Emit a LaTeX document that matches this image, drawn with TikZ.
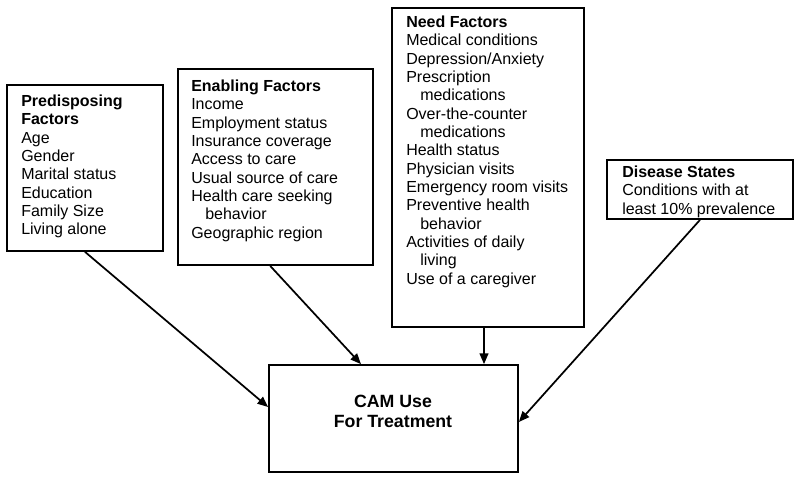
\documentclass[tikz,border=0pt]{standalone}
\usepackage{fontspec}
\setmainfont{Liberation Sans}
\usetikzlibrary{arrows.meta,fit}
\begin{document}
\begin{tikzpicture}[x=0.75pt,y=-0.75pt,
  box/.style={draw, line width=1.3pt, inner sep=0pt},
  list/.style={anchor=north west, inner sep=0pt, align=left, font=\fontsize{12pt}{13.75pt}\selectfont},
  camtext/.style={anchor=center, inner sep=0pt, align=center, font=\fontsize{13.3pt}{15pt}\selectfont\bfseries},
  arr/.style={line width=1.3pt, -{Triangle[length=8pt,width=6.5pt]}}]
\useasboundingbox (0,0) rectangle (800,480);
\newcommand{\ind}{\hspace*{10.5pt}}
% boxes
\node[box, fit={(7,85) (163,251)}] (pre) {};
\node[box, fit={(178,69) (373,265)}] (ena) {};
\node[box, fit={(392,8) (584,327)}] (need) {};
\node[box, fit={(607,160) (793,219)}] (dis) {};
\node[box, fit={(269,365) (518,472)}] (cam) {};
% texts
\node[list] (preT) at (21,94.5) {\textbf{Predisposing}\\\textbf{Factors}\\Age\\Gender\\Marital status\\Education\\Family Size\\Living alone};
\node[list] (enaT) at (191,79.5) {\textbf{Enabling Factors}\\Income\\Employment status\\Insurance coverage\\Access to care\\Usual source of care\\Health care seeking\\\ind behavior\\Geographic region};
\node[list] (needT) at (406,15.5) {\textbf{Need Factors}\\Medical conditions\\Depression/Anxiety\\Prescription\\\ind medications\\Over-the-counter\\\ind medications\\Health status\\Physician visits\\Emergency room visits\\Preventive health\\\ind behavior\\Activities of daily\\\ind living\\Use of a caregiver};
\node[list] (disT) at (622,165.5) {\textbf{Disease States}\\Conditions with at\\least 10\% prevalence};
\node[camtext] (camT) at (393,411) {CAM Use\\For Treatment};
% arrows
\draw[arr] (pre.south) -- ([yshift=8.6pt]cam.west);
\draw[arr] ([xshift=-4pt]ena.south) -- ([xshift=-24.4pt]cam.north);
\draw[arr] ([xshift=-3pt]need.south) -- ([xshift=-3pt]cam.north -| need.south);
\draw[arr] (dis.south) -- ([yshift=-2.6pt]cam.east);
\end{tikzpicture}
\end{document}
